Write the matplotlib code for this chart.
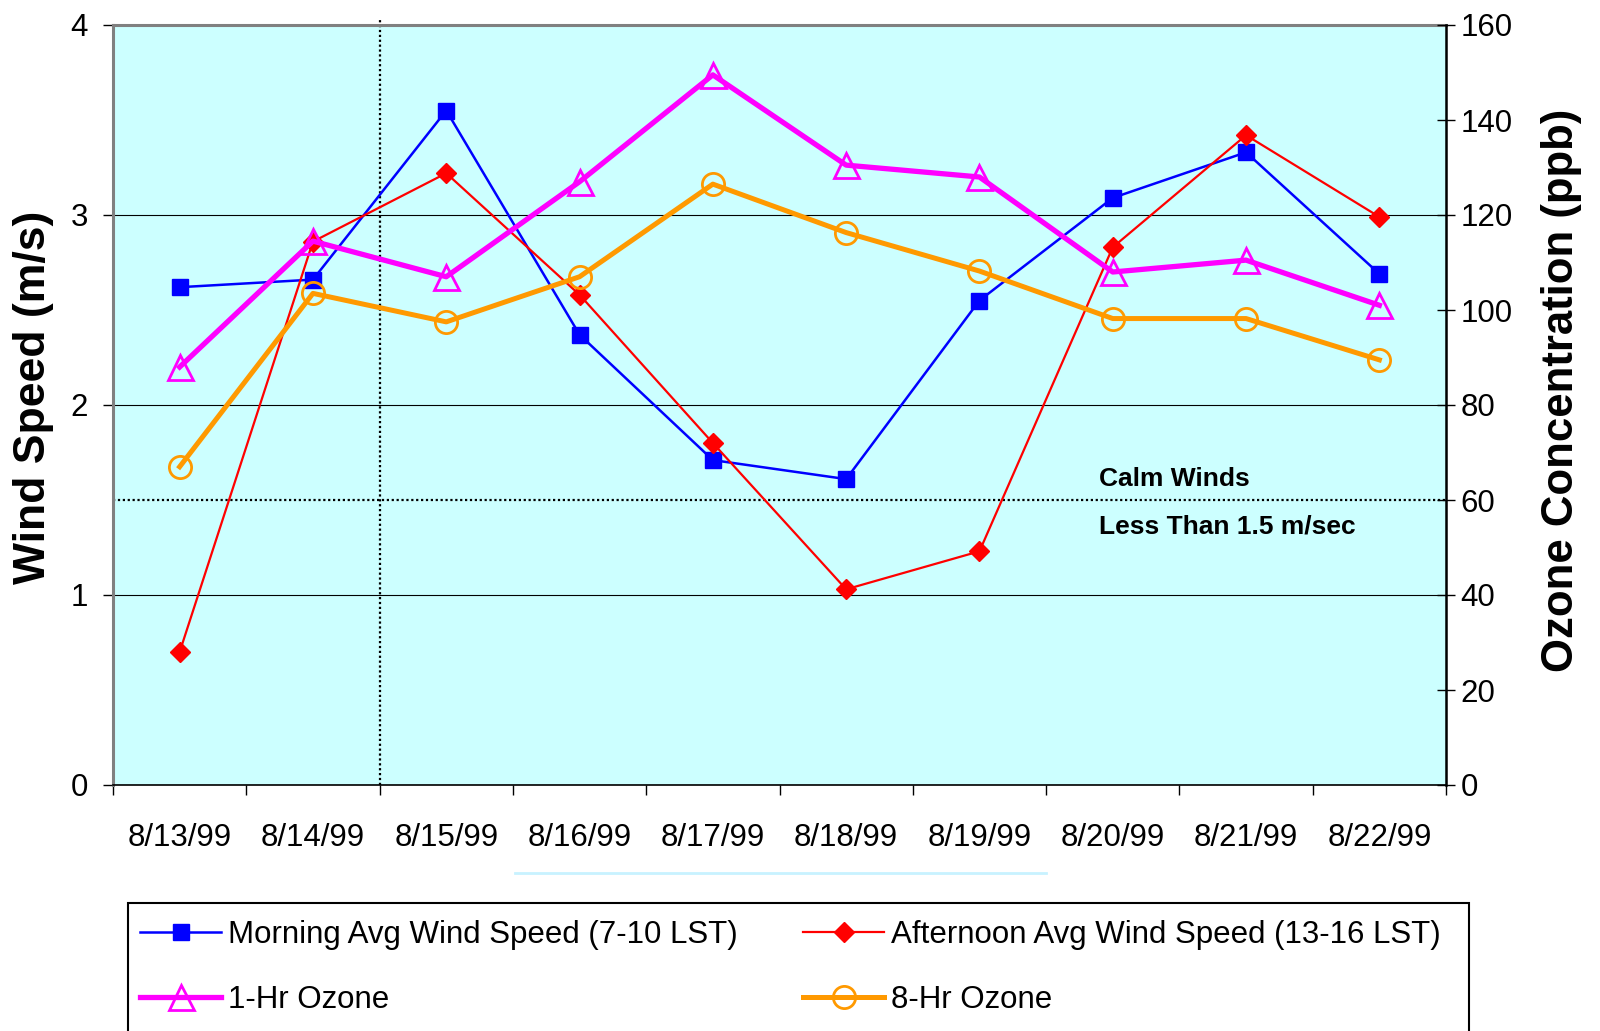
import numpy as np
import matplotlib
matplotlib.use("Agg")
import matplotlib.pyplot as plt
from matplotlib.lines import Line2D
from matplotlib.patches import Rectangle

plt.rcParams['font.family'] = ['Liberation Sans', 'DejaVu Sans']

# data
dates = ['8/13/99', '8/14/99', '8/15/99', '8/16/99', '8/17/99',
         '8/18/99', '8/19/99', '8/20/99', '8/21/99', '8/22/99']
morning_ws = [2.62, 2.66, 3.55, 2.37, 1.71, 1.61, 2.55, 3.09, 3.33, 2.69]
afternoon_ws = [0.70, 2.86, 3.22, 2.58, 1.80, 1.03, 1.23, 2.83, 3.42, 2.99]
ozone_1hr = [88, 114.5, 107, 127, 149.5, 130.5, 128, 108, 110.5, 101]
ozone_8hr = [67, 103.5, 97.5, 107, 126.5, 116.3, 108.2, 98.2, 98.2, 89.5]

calm_limit = 1.5

x = np.arange(len(dates))

fig = plt.figure(figsize=(16, 10.31), dpi=100)
ax1 = fig.add_axes([113 / 1600, 1 - 785 / 1031, 1333 / 1600, 760 / 1031])
ax1.set_facecolor('#CCFFFF')

ax1.plot(x, morning_ws, color='#0000FF', lw=1.8, marker='s', ms=12,
         mfc='#0000FF', mec='#0000FF', label='Morning Avg Wind Speed (7-10 LST)', zorder=3)
ax1.plot(x, afternoon_ws, color='#FF0000', lw=1.6, marker='D', ms=10,
         mfc='#FF0000', mec='#FF0000', label='Afternoon Avg Wind Speed (13-16 LST)', zorder=3)

ax1.set_xlim(-0.5, len(dates) - 0.5)
ax1.set_ylim(0, 4)
ax1.set_yticks([0, 1, 2, 3, 4])
ax1.set_yticklabels(['0', '1', '2', '3', '4'])
ax1.grid(axis='y', color='black', lw=0.8)
ax1.set_axisbelow(True)

# category boundary ticks, labels at centers
ax1.set_xticks(np.arange(-0.5, len(dates), 1.0))
ax1.set_xticklabels([])
ax1.set_xticks(x, minor=True)
ax1.set_xticklabels(dates, minor=True, fontsize=22.5)
ax1.tick_params(axis='x', which='major', direction='out', length=7.5, width=1, color='black')
ax1.tick_params(axis='x', which='minor', length=0, pad=27)
ax1.tick_params(axis='y', direction='out', length=7, width=1, labelsize=22.5, pad=11)

ax1.spines['top'].set_color('#808080')
ax1.spines['top'].set_linewidth(2.2)
ax1.spines['left'].set_color('#808080')
ax1.spines['left'].set_linewidth(2.2)
ax1.spines['bottom'].set_color('black')
ax1.spines['bottom'].set_linewidth(1.2)

# calm winds threshold and date marker
ax1.axhline(calm_limit, color='black', lw=1.6, ls=(0, (1, 1.2)), zorder=2)
ax1.plot([1.5, 1.5], [0, 4.03], color='black', lw=1.6, ls=(0, (1, 1.2)),
         zorder=2, clip_on=False)
ax1.text(6.9, calm_limit + 0.11, 'Calm Winds', fontsize=19, fontweight='bold',
         ha='left', va='center')
ax1.text(6.9, calm_limit - 0.14, 'Less Than 1.5 m/sec', fontsize=19, fontweight='bold',
         ha='left', va='center')

ax2 = ax1.twinx()
ax2.plot(x, ozone_1hr, color='#FF00FF', lw=3.8, marker='^', ms=18,
         mfc='none', mec='#FF00FF', mew=2, label='1-Hr Ozone', zorder=3)
ax2.plot(x, ozone_8hr, color='#FF9900', lw=3.6, marker='o', ms=16,
         mfc='none', mec='#FF9900', mew=2, label='8-Hr Ozone', zorder=3)
ax2.set_ylim(0, 160)
ax2.set_yticks(np.arange(0, 161, 20))
ax2.tick_params(axis='y', direction='inout', length=13, width=1, labelsize=22.5, pad=4)
ax2.spines['right'].set_color('black')
ax2.spines['right'].set_linewidth(1.8)
for s in ['top', 'left', 'bottom']:
    ax2.spines[s].set_visible(False)

fig.text(34 / 1600, 1 - 397 / 1031, 'Wind Speed (m/s)', rotation=90, fontsize=32,
         fontweight='bold', ha='center', va='center')
fig.text(1561 / 1600, 1 - 390 / 1031, 'Ozone Concentration (ppb)', rotation=90, fontsize=31.5,
         fontweight='bold', ha='center', va='center')

# faint line under the dates
fig.add_artist(Line2D([515 / 1600, 1046 / 1600], [1 - 873 / 1031, 1 - 873 / 1031],
                      color='#C8F2FF', lw=2))

# legend box runs off the bottom of the figure
fig.add_artist(Rectangle((128 / 1600, -0.05), (1469 - 128) / 1600, 0.05 + 1 - 903 / 1031,
                         transform=fig.transFigure, facecolor='white',
                         edgecolor='black', lw=1.5, zorder=1))

h1, l1 = ax1.get_legend_handles_labels()
h2, l2 = ax2.get_legend_handles_labels()
handles = [h1[0], h2[0], h1[1], h2[1]]
labels = [l1[0], l2[0], l1[1], l2[1]]
leg = fig.legend(handles, labels, loc='upper left', ncol=2,
                 bbox_to_anchor=(123 / 1600, 1 - 903 / 1031),
                 fontsize=22.5, frameon=False,
                 handlelength=2.6, handletextpad=0.2, columnspacing=2.1,
                 labelspacing=1.1, borderpad=0.55, borderaxespad=0)
leg.set_zorder(2)

fig.savefig('out.png', dpi=100)
